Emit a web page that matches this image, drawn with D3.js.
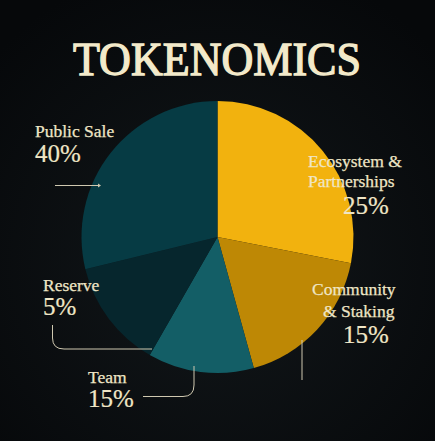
<!DOCTYPE html>
<html><head><meta charset="utf-8">
<script src="https://cdn.jsdelivr.net/npm/d3@7"></script>
<style>html,body{margin:0;padding:0;background:#090b0d;}svg{display:block;}</style>
</head><body>
<svg id="c" width="435" height="441"></svg>
<script>
// Data (slice shares as drawn, clockwise from 12 o'clock)
const categories = ["Ecosystem & Partnerships", "Community & Staking", "Team", "Reserve", "Public Sale"];
const sliceShares = [28.1, 17.6, 12.6, 12.9, 28.8];
const labelPercents = ["25%", "15%", "15%", "5%", "40%"];
const sliceColors = ["#F2B20E", "#BE8805", "#135E66", "#06262D", "#063B44"];
const titleText = "TOKENOMICS";

const svg = d3.select("#c");
const W = 435, H = 441;
const defs = svg.append("defs");
const bg = defs.append("radialGradient").attr("id", "bg").attr("cx", "50%").attr("cy", "60%").attr("r", "70%");
bg.append("stop").attr("offset", "0%").attr("stop-color", "#12171a");
bg.append("stop").attr("offset", "100%").attr("stop-color", "#06080a");
svg.append("rect").attr("width", W).attr("height", H).attr("fill", "url(#bg)");

const cream = "#EFE6C6";
const serif = "'Liberation Serif','DejaVu Serif',serif";

svg.append("text").attr("x", 217).attr("y", 75).attr("text-anchor", "middle")
  .attr("font-family", serif).attr("font-size", 47).attr("fill", "#F3EACA")
  .attr("stroke", "#F3EACA").attr("stroke-width", 1.3)
  .attr("textLength", 288).attr("lengthAdjust", "spacingAndGlyphs")
  .text(titleText);

const cx = 217.5, cy = 237, r = 136;
const pie = d3.pie().sort(null).value(d => d)(sliceShares);
const arc = d3.arc().innerRadius(0).outerRadius(r);
svg.append("g").attr("transform", `translate(${cx},${cy})`)
  .selectAll("path").data(pie).join("path")
  .attr("d", arc).attr("fill", (d, i) => sliceColors[i]);

// leader lines
const lineCol = "#cfc8b0";
svg.append("path").attr("d", "M55,185.5 H99").attr("stroke", lineCol).attr("stroke-width", 1).attr("fill", "none");
svg.append("path").attr("d", "M98,183.5 L101,185.5 L98,187.5 Z").attr("fill", lineCol);
svg.append("path").attr("d", "M52.5,325 V338 Q52.5,349 64,349 H152").attr("stroke", lineCol).attr("stroke-width", 1).attr("fill", "none");
svg.append("path").attr("d", "M143,396.5 H183 Q194,396.5 194,385 V366").attr("stroke", lineCol).attr("stroke-width", 1).attr("fill", "none");
svg.append("path").attr("d", "M302,340 V380").attr("stroke", lineCol).attr("stroke-width", 1).attr("fill", "none");

// labels
const labels = [
  {lines: ["Ecosystem &", "Partnerships"], xs: [308, 308], ys: [167, 187], px: 343, py: 214},
  {lines: ["Community", "& Staking"], xs: [312, 323], ys: [295, 317], px: 343, py: 343},
  {lines: ["Team"], xs: [88], ys: [383], px: 88, py: 407},
  {lines: ["Reserve"], xs: [43], ys: [291], px: 43, py: 315},
  {lines: ["Public Sale"], xs: [35], ys: [137], px: 35, py: 162}
];
labels.forEach((L, i) => {
  L.lines.forEach((t, j) => {
    svg.append("text").attr("x", L.xs[j]).attr("y", L.ys[j])
      .attr("font-family", serif).attr("font-size", 17.5).attr("fill", cream)
      .attr("stroke", cream).attr("stroke-width", 0.25).text(t);
  });
  svg.append("text").attr("x", L.px).attr("y", L.py)
    .attr("font-family", serif).attr("font-size", 25).attr("fill", cream)
    .attr("stroke", cream).attr("stroke-width", 0.2).text(labelPercents[i]);
});
</script>
</body></html>
